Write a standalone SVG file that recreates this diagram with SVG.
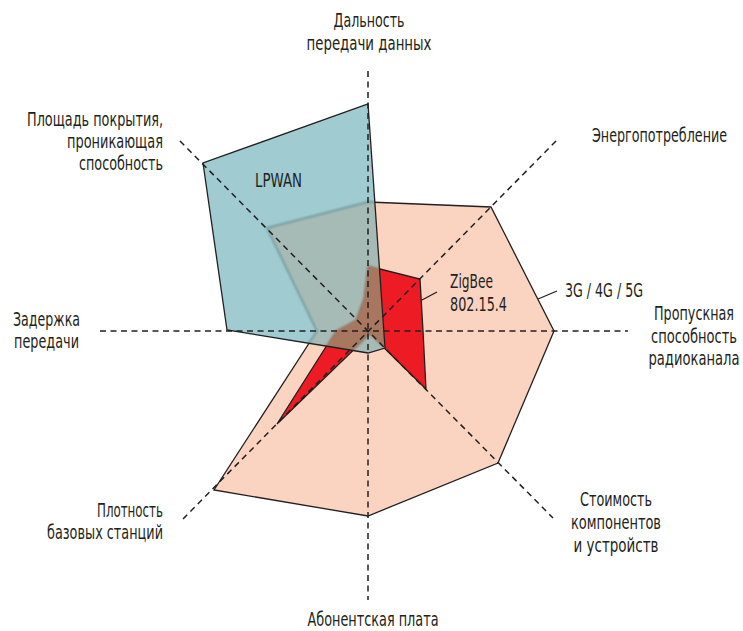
<svg xmlns="http://www.w3.org/2000/svg" width="743" height="631" viewBox="0 0 743 631">
  <style>
    .lbl { font-family: "Liberation Sans Narrow", "DejaVu Sans Condensed", "Liberation Sans", sans-serif; font-size: 20px; fill: #231f20; }
    .axis { stroke: #231f20; stroke-width: 1.5; stroke-dasharray: 6 4.5; fill: none; }
    .edge { stroke: #231f20; stroke-width: 1.3; stroke-linejoin: miter; }
    .lead { stroke: #231f20; stroke-width: 1.3; fill: none; }
  </style>
  <defs>
    <polygon id="shape-cell" points="368,202 491,207 554,331 498,463 368,516 214,490 317,331 267,228"/>
    <polygon id="shape-zigbee" points="368,266 420,279 423,331 426,389 370,334 277,424 336,331 356,320 364,298"/>
    <polygon id="shape-lpwan" points="368,104 385,348 368,353 338,348 227,330 203,163"/>
    <clipPath id="clip-lpwan">
      <use href="#shape-lpwan"/>
    </clipPath>
    <filter id="soft" x="-5%" y="-5%" width="110%" height="110%">
      <feGaussianBlur stdDeviation="0.8"/>
    </filter>
  </defs>

  <!-- 3G / 4G / 5G area -->
  <g id="series-cellular">
    <use href="#shape-cell" fill="#fbd3c1" class="edge"/>
  </g>

  <!-- ZigBee area -->
  <g id="series-zigbee">
    <use href="#shape-zigbee" fill="#ed1c24" class="edge"/>
  </g>

  <!-- LPWAN area with tinted overlaps -->
  <g id="series-lpwan">
    <use href="#shape-lpwan" fill="#9fcbd1"/>
    <g clip-path="url(#clip-lpwan)">
      <use href="#shape-cell" fill="#a7bbb6" stroke="#5f8a90" stroke-width="1.4" filter="url(#soft)"/>
      <use href="#shape-zigbee" fill="#a8775f" stroke="#7a6a60" stroke-width="1" filter="url(#soft)"/>
    </g>
    <use href="#shape-lpwan" fill="none" class="edge"/>
  </g>

  <!-- radial axes -->
  <g id="axes">
    <line class="axis" x1="368" y1="71" x2="368" y2="600"/>
    <line class="axis" x1="100" y1="331" x2="628" y2="331"/>
    <line class="axis" x1="180" y1="141" x2="553" y2="518"/>
    <line class="axis" x1="556" y1="141" x2="180" y2="522"/>
  </g>

  <!-- label leaders -->
  <g id="connectors">
    <line class="lead" x1="422" y1="300" x2="437" y2="292"/>
    <line class="lead" x1="538" y1="299" x2="557" y2="291"/>
  </g>

  <!-- axis labels -->
  <g id="label-range">
    <text class="lbl" x="369" y="27" text-anchor="middle" textLength="71" lengthAdjust="spacingAndGlyphs">Дальность</text>
    <text class="lbl" x="369" y="50" text-anchor="middle" textLength="125" lengthAdjust="spacingAndGlyphs">передачи данных</text>
  </g>
  <g id="label-coverage">
    <text class="lbl" x="163" y="126" text-anchor="end" textLength="136" lengthAdjust="spacingAndGlyphs">Площадь покрытия,</text>
    <text class="lbl" x="163" y="148" text-anchor="end" textLength="96" lengthAdjust="spacingAndGlyphs">проникающая</text>
    <text class="lbl" x="163" y="170" text-anchor="end" textLength="84" lengthAdjust="spacingAndGlyphs">способность</text>
  </g>
  <g id="label-power">
    <text class="lbl" x="727" y="142" text-anchor="end" textLength="135" lengthAdjust="spacingAndGlyphs">Энергопотребление</text>
  </g>
  <g id="label-bandwidth">
    <text class="lbl" x="734" y="320" text-anchor="end" textLength="80" lengthAdjust="spacingAndGlyphs">Пропускная</text>
    <text class="lbl" x="737" y="343" text-anchor="end" textLength="86" lengthAdjust="spacingAndGlyphs">способность</text>
    <text class="lbl" x="739.5" y="365" text-anchor="end" textLength="91" lengthAdjust="spacingAndGlyphs">радиоканала</text>
  </g>
  <g id="label-cost">
    <text class="lbl" x="616" y="506" text-anchor="middle" textLength="72" lengthAdjust="spacingAndGlyphs">Стоимость</text>
    <text class="lbl" x="616" y="529" text-anchor="middle" textLength="90" lengthAdjust="spacingAndGlyphs">компонентов</text>
    <text class="lbl" x="616" y="552" text-anchor="middle" textLength="85" lengthAdjust="spacingAndGlyphs">и устройств</text>
  </g>
  <g id="label-fee">
    <text class="lbl" x="373" y="626" text-anchor="middle" textLength="131" lengthAdjust="spacingAndGlyphs">Абонентская плата</text>
  </g>
  <g id="label-density">
    <text class="lbl" x="163" y="517" text-anchor="end" textLength="66" lengthAdjust="spacingAndGlyphs">Плотность</text>
    <text class="lbl" x="163" y="539" text-anchor="end" textLength="116" lengthAdjust="spacingAndGlyphs">базовых станций</text>
  </g>
  <g id="label-latency">
    <text class="lbl" x="13" y="326" textLength="67" lengthAdjust="spacingAndGlyphs">Задержка</text>
    <text class="lbl" x="14" y="348" textLength="65" lengthAdjust="spacingAndGlyphs">передачи</text>
  </g>

  <!-- series labels -->
  <g id="label-lpwan">
    <text class="lbl" x="255" y="187" textLength="47" lengthAdjust="spacingAndGlyphs">LPWAN</text>
  </g>
  <g id="label-zigbee">
    <text class="lbl" x="450" y="288" textLength="43" lengthAdjust="spacingAndGlyphs">ZigBee</text>
    <text class="lbl" x="450" y="311" textLength="57" lengthAdjust="spacingAndGlyphs">802.15.4</text>
  </g>
  <g id="label-cellular">
    <text class="lbl" x="565" y="297" textLength="78" lengthAdjust="spacingAndGlyphs">3G / 4G / 5G</text>
  </g>
</svg>
